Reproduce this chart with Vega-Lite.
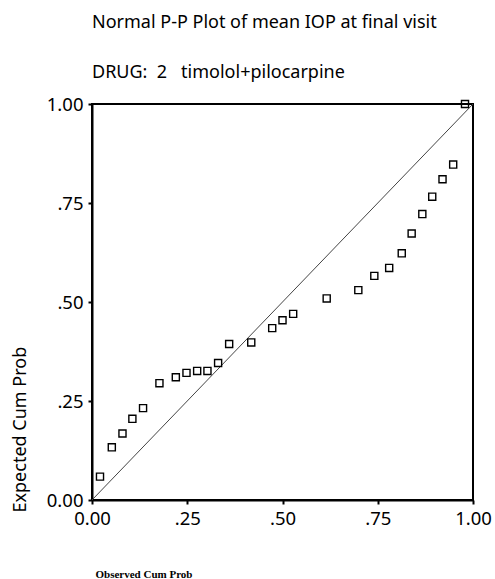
{
  "$schema": "https://vega.github.io/schema/vega-lite/v6.json",
  "description": "Normal P-P plot of mean IOP at final visit, drug 2",
  "width": 381,
  "height": 396,
  "autosize": {"type": "none"},
  "padding": {"left": 92, "top": 104, "right": 22, "bottom": 79},
  "title": {
    "text": "Normal P-P Plot of mean IOP at final visit",
    "subtitle": "DRUG:\u00a0\u00a02\u00a0\u00a0\u00a0timolol+pilocarpine",
    "anchor": "start",
    "frame": "group",
    "font": "Noto Sans",
    "fontSize": 18,
    "fontWeight": "normal",
    "color": "black",
    "subtitleFont": "Noto Sans",
    "subtitleFontSize": 18,
    "subtitleColor": "black",
    "subtitlePadding": 32,
    "offset": 13
  },
  "config": {
    "view": {"stroke": "black", "strokeWidth": 2},
    "font": "Noto Sans",
    "axis": {
      "grid": false,
      "domainColor": "black",
      "domainWidth": 2,
      "tickColor": "black",
      "tickWidth": 2,
      "tickSize": 4,
      "labelFont": "Noto Sans",
      "labelFontSize": 18.5,
      "labelColor": "black",
      "labelFlush": false,
      "labelOverlap": false,
      "labelPadding": 5
    }
  },
  "layer": [
    {
      "data": {"values": [{"p": 0}, {"p": 1}]},
      "mark": {"type": "line", "color": "#444444", "strokeWidth": 1},
      "encoding": {
        "x": {"field": "p", "type": "quantitative"},
        "y": {"field": "p", "type": "quantitative"}
      }
    },
    {
      "data": {
        "values": [
          {"observed": 0.021, "expected": 0.059},
          {"observed": 0.052, "expected": 0.133},
          {"observed": 0.080, "expected": 0.168},
          {"observed": 0.106, "expected": 0.205},
          {"observed": 0.134, "expected": 0.232},
          {"observed": 0.177, "expected": 0.295},
          {"observed": 0.220, "expected": 0.310},
          {"observed": 0.248, "expected": 0.321},
          {"observed": 0.276, "expected": 0.326},
          {"observed": 0.303, "expected": 0.326},
          {"observed": 0.331, "expected": 0.346},
          {"observed": 0.360, "expected": 0.394},
          {"observed": 0.418, "expected": 0.398},
          {"observed": 0.473, "expected": 0.434},
          {"observed": 0.500, "expected": 0.454},
          {"observed": 0.528, "expected": 0.470},
          {"observed": 0.616, "expected": 0.509},
          {"observed": 0.699, "expected": 0.530},
          {"observed": 0.741, "expected": 0.566},
          {"observed": 0.780, "expected": 0.586},
          {"observed": 0.813, "expected": 0.623},
          {"observed": 0.839, "expected": 0.673},
          {"observed": 0.867, "expected": 0.722},
          {"observed": 0.893, "expected": 0.766},
          {"observed": 0.920, "expected": 0.810},
          {"observed": 0.948, "expected": 0.847},
          {"observed": 0.979, "expected": 1.000}
        ]
      },
      "mark": {
        "type": "point",
        "shape": "square",
        "filled": false,
        "size": 50,
        "stroke": "black",
        "strokeWidth": 1.4,
        "opacity": 1,
        "clip": false
      },
      "encoding": {
        "x": {
          "field": "observed",
          "type": "quantitative",
          "scale": {"domain": [0, 1], "nice": false},
          "axis": {
            "values": [0, 0.25, 0.5, 0.75, 1],
            "labelExpr": "datum.value == 0 || datum.value == 1 ? format(datum.value, '.2f') : slice(format(datum.value, '.2f'), 1)",
            "title": "Observed Cum Prob",
            "titleFont": "Liberation Serif",
            "titleFontSize": 11,
            "titleFontWeight": "bold",
            "titleColor": "black",
            "titleX": 3,
            "titleY": 77,
            "titleAlign": "left",
            "titleBaseline": "alphabetic"
          }
        },
        "y": {
          "field": "expected",
          "type": "quantitative",
          "scale": {"domain": [0, 1], "nice": false},
          "axis": {
            "values": [0, 0.25, 0.5, 0.75, 1],
            "labelExpr": "datum.value == 0 || datum.value == 1 ? format(datum.value, '.2f') : slice(format(datum.value, '.2f'), 1)",
            "title": "Expected Cum Prob",
            "titleFont": "Noto Sans",
            "titleFontSize": 18,
            "titleFontWeight": "normal",
            "titleColor": "black",
            "titleAngle": -90,
            "titleX": -67,
            "titleY": 408,
            "titleAlign": "left",
            "titleBaseline": "alphabetic"
          }
        }
      }
    }
  ]
}
